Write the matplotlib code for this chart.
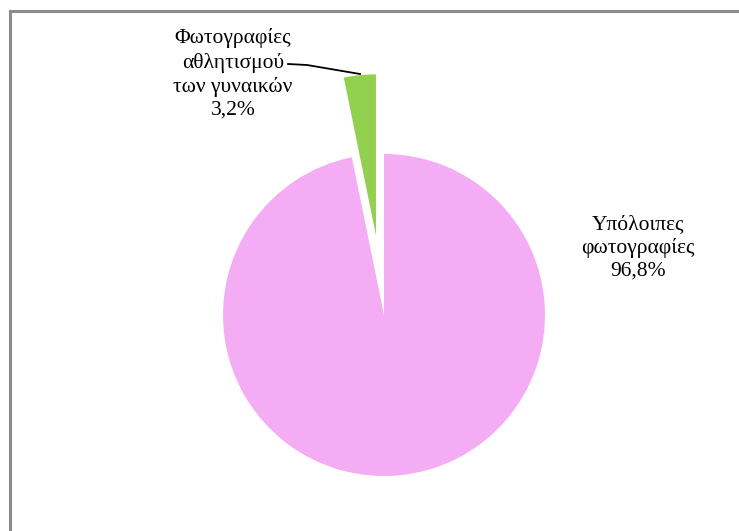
import numpy as np
from matplotlib import pyplot as plt
from matplotlib.lines import Line2D

# ---------------------- data ----------------------
labels = ['Υπόλοιπες\nφωτογραφίες\n96,8%', 'Φωτογραφίες\nαθλητισμού\nτων γυναικών\n3,2%']
shares = [96.8, 3.2]
colors = ['#F4ACF4', '#92D050']

# ---------------------- figure ----------------------
W, H = 739, 531
fig = plt.figure(figsize=(W / 100, H / 100), dpi=100)
ax = fig.add_axes([0, 0, 1, 1])

# pie drawn in pixel-like units (y grows upward)
cx, cy, r = 384, H - 315, 161
ax.pie(shares, colors=colors, startangle=90, counterclock=False,
       center=(cx, cy), radius=r, explode=[0, 80],
       wedgeprops={'linewidth': 0})
ax.set_xlim(0, W)
ax.set_ylim(0, H)
ax.set_aspect('equal')
ax.axis('off')

# frame (only top & left are visible in the crop)
fig.add_artist(Line2D([9.5 / W, 9.5 / W], [0, 1 - 10.5 / H], color='#8C8C8C', lw=2.2))
fig.add_artist(Line2D([9.5 / W, 1.0], [1 - 10.5 / H, 1 - 10.5 / H], color='#8C8C8C', lw=2.2))

font = ['Liberation Serif', 'DejaVu Serif']
ax.text(638, H - 248, labels[0], ha='center', va='center', fontsize=15.5,
        family=font, linespacing=1.27)
ax.text(233, H - 74, labels[1], ha='center', va='center', fontsize=15.5,
        family=font, linespacing=1.28)

# leader line for the small slice
ax.plot([288, 307, 360], [H - 64, H - 65, H - 74], color='black', lw=1.3)

fig.savefig('out.png', dpi=100)
